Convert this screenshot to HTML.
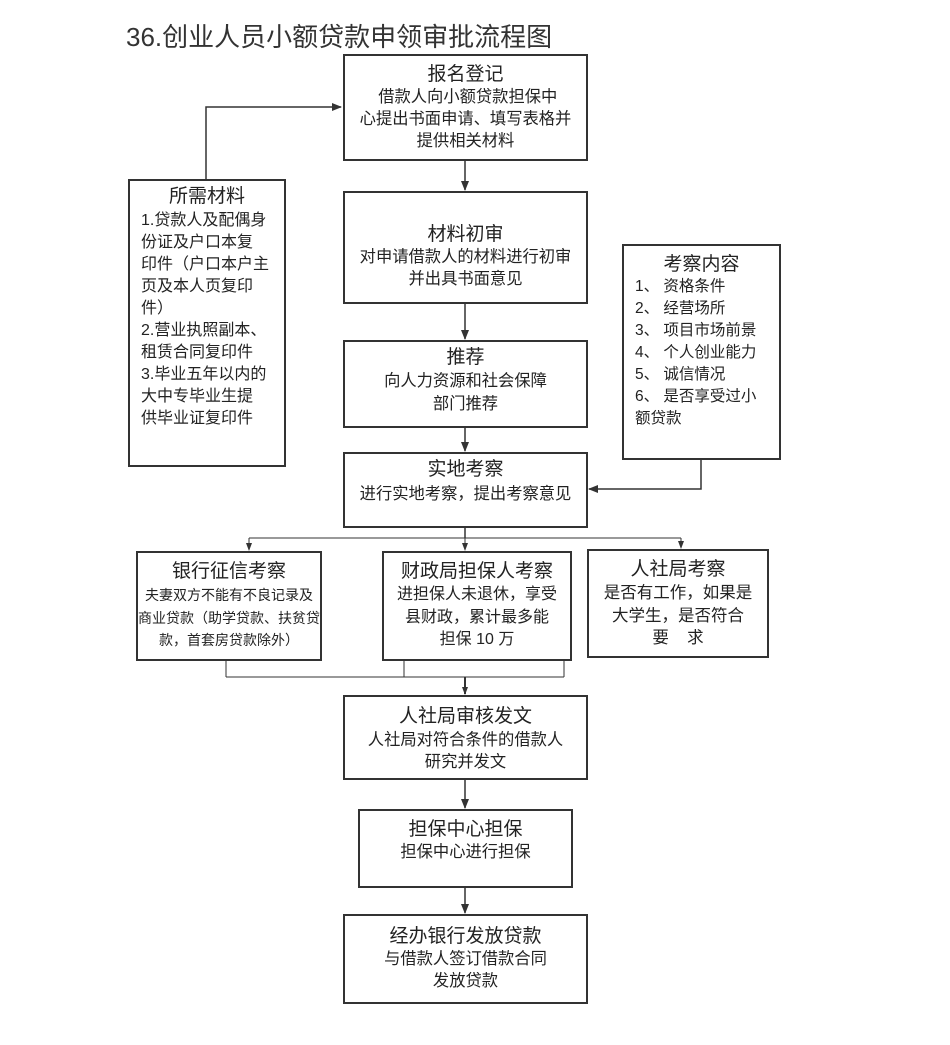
<!DOCTYPE html>
<html><head><meta charset="utf-8"><style>
body{margin:0;background:#fff;}
#c{position:relative;width:950px;height:1045px;overflow:hidden;background:#fff;font-family:"Liberation Sans","Noto Sans CJK SC",sans-serif;color:#222;}
.b{position:absolute;border:2px solid #333;box-sizing:border-box;background:#fff;}
.t{position:absolute;white-space:nowrap;text-align:center;}
.h{font-size:19px;line-height:22px;}
.s{font-size:16.3px;line-height:22px;}
svg{position:absolute;left:0;top:0;}
</style></head><body><div id="c">
<div class="t" style="left:126px;top:20px;font-size:26px;line-height:34px;text-align:left;color:#333">36.创业人员小额贷款申领审批流程图</div>

<svg width="950" height="1045">
<defs><marker id="a" markerWidth="10" markerHeight="10" refX="9" refY="5" orient="auto" markerUnits="userSpaceOnUse"><path d="M0,1 L10,5 L0,9 z" fill="#333"/></marker>
<marker id="m" markerWidth="8" markerHeight="8" refX="7" refY="4" orient="auto" markerUnits="userSpaceOnUse"><path d="M0,1 L8,4 L0,7 z" fill="#333"/></marker></defs>
<g stroke="#333" stroke-width="1.5" fill="none">
<polyline points="206,179 206,107 341,107" marker-end="url(#a)"/>
<polyline points="701,459 701,489 589,489" marker-end="url(#a)"/>
<line x1="465" y1="160" x2="465" y2="190" marker-end="url(#a)"/>
<line x1="465" y1="303" x2="465" y2="339" marker-end="url(#a)"/>
<line x1="465" y1="427" x2="465" y2="451" marker-end="url(#a)"/>
<polyline points="465,527 465,538"/>
<line x1="249" y1="538" x2="681" y2="538" stroke-width="1"/>
<line x1="249" y1="538" x2="249" y2="550" stroke-width="1" marker-end="url(#m)"/>
<line x1="465" y1="538" x2="465" y2="550" stroke-width="1" marker-end="url(#m)"/>
<line x1="681" y1="538" x2="681" y2="548" stroke-width="1" marker-end="url(#m)"/>
<line x1="226" y1="660" x2="226" y2="677" stroke-width="1"/>
<line x1="404" y1="660" x2="404" y2="677" stroke-width="1"/>
<line x1="564" y1="657" x2="564" y2="677" stroke-width="1"/>
<line x1="226" y1="677" x2="564" y2="677" stroke-width="1"/>
<line x1="465" y1="677" x2="465" y2="694" stroke-width="2" marker-end="url(#m)"/>
<line x1="465" y1="779" x2="465" y2="808" marker-end="url(#a)"/>
<line x1="465" y1="887" x2="465" y2="913" marker-end="url(#a)"/>
</g></svg>

<div class="b" style="left:343px;top:54px;width:245px;height:107px"></div>
<div class="t h" style="left:343px;width:245px;top:64px">报名登记</div>
<div class="t s" style="left:343px;width:245px;top:86px">&nbsp;借款人向小额贷款担保中</div>
<div class="t s" style="left:343px;width:245px;top:108px">心提出书面申请、填写表格并</div>
<div class="t s" style="left:343px;width:245px;top:130px">提供相关材料</div>

<div class="b" style="left:343px;top:191px;width:245px;height:113px"></div>
<div class="t h" style="left:343px;width:245px;top:224px">材料初审</div>
<div class="t s" style="left:343px;width:245px;top:246px">对申请借款人的材料进行初审</div>
<div class="t s" style="left:343px;width:245px;top:268px">并出具书面意见</div>

<div class="b" style="left:343px;top:340px;width:245px;height:88px"></div>
<div class="t h" style="left:343px;width:245px;top:347px">推荐</div>
<div class="t s" style="left:343px;width:245px;top:370px">向人力资源和社会保障</div>
<div class="t s" style="left:343px;width:245px;top:393px">部门推荐</div>

<div class="b" style="left:343px;top:452px;width:245px;height:76px"></div>
<div class="t h" style="left:343px;width:245px;top:459px">实地考察</div>
<div class="t s" style="left:343px;width:245px;top:483px">进行实地考察，提出考察意见</div>

<div class="b" style="left:128px;top:179px;width:158px;height:288px"></div>
<div class="t h" style="left:128px;width:158px;top:186px">所需材料</div>
<div class="t s" style="left:141px;top:210px;text-align:left;line-height:22px;font-size:16px">1.贷款人及配偶身<br>份证及户口本复<br>印件（户口本户主<br>页及本人页复印<br>件）<br>2.营业执照副本、<br>租赁合同复印件<br>3.毕业五年以内的<br>大中专毕业生提<br>供毕业证复印件</div>

<div class="b" style="left:622px;top:244px;width:159px;height:216px"></div>
<div class="t h" style="left:622px;width:159px;top:254px">考察内容</div>
<div class="t s" style="left:635px;top:276px;text-align:left;line-height:22px;font-size:15.5px">1、 资格条件<br>2、 经营场所<br>3、 项目市场前景<br>4、 个人创业能力<br>5、 诚信情况<br>6、 是否享受过小<br>额贷款</div>

<div class="b" style="left:136px;top:551px;width:186px;height:110px"></div>
<div class="t h" style="left:136px;width:186px;top:561px">银行征信考察</div>
<div class="t s" style="left:136px;width:186px;top:584px;line-height:22.5px;font-size:14px">夫妻双方不能有不良记录及<br>商业贷款（助学贷款、扶贫贷<br>款，首套房贷款除外）</div>

<div class="b" style="left:382px;top:551px;width:190px;height:110px"></div>
<div class="t h" style="left:382px;width:190px;top:561px">财政局担保人考察</div>
<div class="t s" style="left:382px;width:190px;top:584px;line-height:22.5px;font-size:16px">进担保人未退休，享受<br>县财政，累计最多能<br>担保 10 万</div>

<div class="b" style="left:587px;top:549px;width:182px;height:109px"></div>
<div class="t h" style="left:587px;width:182px;top:559px">人社局考察</div>
<div class="t s" style="left:587px;width:182px;top:582px;line-height:22.5px;font-size:16.5px">是否有工作，如果是<br>大学生，是否符合<br>要&nbsp;&nbsp;&nbsp;&nbsp;求</div>

<div class="b" style="left:343px;top:695px;width:245px;height:85px"></div>
<div class="t h" style="left:343px;width:245px;top:706px">人社局审核发文</div>
<div class="t s" style="left:343px;width:245px;top:729px">人社局对符合条件的借款人</div>
<div class="t s" style="left:343px;width:245px;top:751px">研究并发文</div>

<div class="b" style="left:358px;top:809px;width:215px;height:79px"></div>
<div class="t h" style="left:358px;width:215px;top:819px">担保中心担保</div>
<div class="t s" style="left:358px;width:215px;top:841px">担保中心进行担保</div>

<div class="b" style="left:343px;top:914px;width:245px;height:90px"></div>
<div class="t h" style="left:343px;width:245px;top:926px">经办银行发放贷款</div>
<div class="t s" style="left:343px;width:245px;top:948px">与借款人签订借款合同</div>
<div class="t s" style="left:343px;width:245px;top:970px">发放贷款</div>
</div></body></html>
